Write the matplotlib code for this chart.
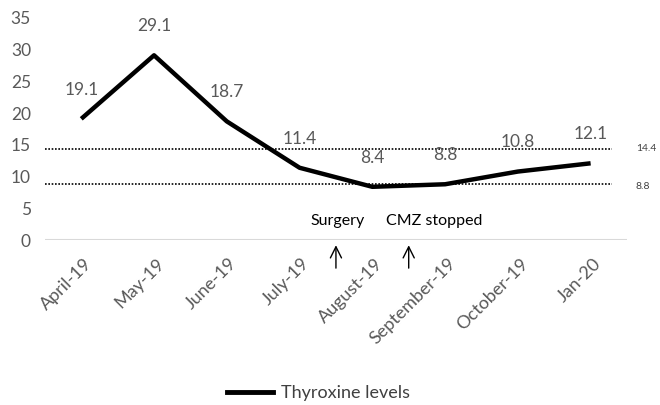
import matplotlib
matplotlib.use("Agg")
import matplotlib.pyplot as plt
from matplotlib.lines import Line2D
from matplotlib.transforms import ScaledTranslation

plt.rcParams['font.family'] = ['Lato', 'DejaVu Sans']

months = ["April-19", "May-19", "June-19", "July-19", "August-19",
          "September-19", "October-19", "Jan-20"]
thyroxine = [19.1, 29.1, 18.7, 11.4, 8.4, 8.8, 10.8, 12.1]
ref_upper = 14.4
ref_lower = 8.8
yticks = [0, 5, 10, 15, 20, 25, 30, 35]

fig = plt.figure(figsize=(6.6, 4.05), dpi=100)
ax = fig.add_axes([0.068, 0.407, 0.882, 0.549])

x = list(range(len(months)))
ax.plot(x, thyroxine, color='black', lw=3.2, solid_capstyle='butt',
        solid_joinstyle='round', zorder=3)

gray = '#595959'
for xi, v in zip(x, thyroxine):
    ax.annotate(f"{v}", (xi, v), xytext=(0, 21), textcoords='offset points',
                ha='center', va='center', fontsize=12.5, color=gray)

# reference lines
ax.plot([-0.5, 7.3], [ref_upper, ref_upper], ls=(0, (1, 1)), color='black', lw=1.2, zorder=2)
ax.plot([-0.5, 7.3], [ref_lower, ref_lower], ls=(0, (1, 1)), color='black', lw=1.2, zorder=2)
ax.text(7.62, ref_upper, f"{ref_upper}", fontsize=7.5, color='#404040', va='center', ha='left')
ax.text(7.62, ref_lower - 0.4, f"{ref_lower}", fontsize=7.5, color='#404040', va='center', ha='left')

ax.set_xlim(-0.5, 7.5)
ax.set_ylim(0, 35)
ax.set_yticks(yticks)
ax.set_xticks(x)
ax.set_xticklabels(months, rotation=45, ha='right', rotation_mode='anchor')
ax.tick_params(axis='both', length=0, colors=gray, labelsize=12.5)
ax.tick_params(axis='x', labelsize=13)
ax.tick_params(axis='y', pad=10)
ax.tick_params(axis='x', pad=11)
shift = ScaledTranslation(2 / 100, 0, fig.dpi_scale_trans)
for lbl in ax.get_xticklabels():
    lbl.set_transform(lbl.get_transform() + shift)
for s in ax.spines.values():
    s.set_visible(False)
ax.axhline(0, color='#d9d9d9', lw=1.5, zorder=1)

# annotations
ax.text(3.52, 3.0, "Surgery", ha='center', va='center', fontsize=11.5, color='black')
ax.text(4.85, 3.0, "CMZ stopped", ha='center', va='center', fontsize=11.5, color='black')
for xa in [3.5, 4.5]:
    ax.annotate("", xy=(xa, -0.8), xytext=(xa, -4.4), xycoords='data',
                arrowprops=dict(arrowstyle='->', color='black', lw=1.0,
                                mutation_scale=20, shrinkA=0, shrinkB=0),
                annotation_clip=False)

handle = Line2D([0], [0], color='black', lw=3.5)
fig.legend([handle], ["Thyroxine levels"], loc='center', bbox_to_anchor=(0.482, 0.03),
           frameon=False, fontsize=13, handlelength=2.6, handletextpad=0.4,
           labelcolor='#404040')

fig.savefig("out.png", dpi=100)
